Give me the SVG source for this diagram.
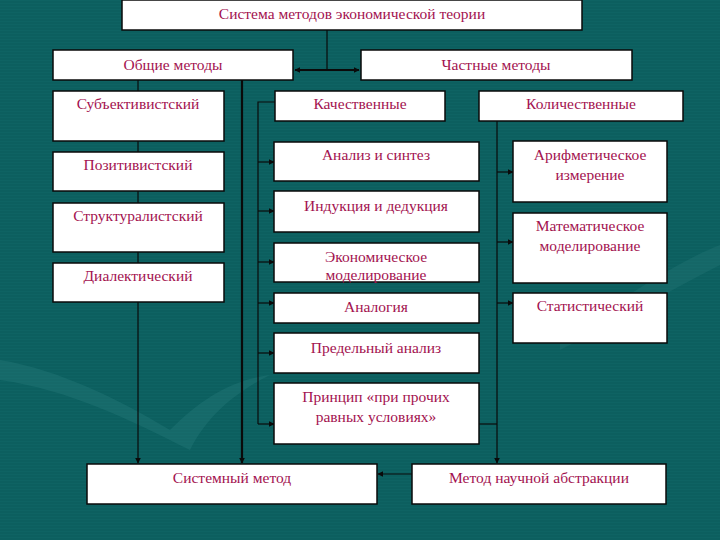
<svg xmlns="http://www.w3.org/2000/svg" width="720" height="540" viewBox="0 0 720 540">
<style>
.bg{fill:#0C5F5F}
.box{fill:#FFFFFF;stroke:#0A0A0A;stroke-width:1.5}
.t{font-family:"Liberation Serif","DejaVu Serif",serif;font-size:15.5px;fill:#A3124F;text-anchor:middle}
.ln{stroke:#0A0A0A;stroke-width:1.2;fill:none}
.lt{stroke:#0A0A0A;stroke-width:2.2;fill:none}
</style>
<defs>
<marker id="ah" viewBox="0 0 10 10" refX="9" refY="5" markerWidth="6" markerHeight="6" markerUnits="userSpaceOnUse" orient="auto-start-reverse">
<path d="M0,0 L10,5 L0,10 z" fill="#0A0A0A"/>
</marker>
<pattern id="stripes" width="4" height="3" patternUnits="userSpaceOnUse">
<rect width="4" height="1" fill="#0F6868" opacity="0.5"/>
</pattern>
</defs>
<rect class="bg" x="0" y="0" width="720" height="540"/>
<rect x="0" y="0" width="720" height="540" fill="url(#stripes)"/>
<path d="M0,360 C60,370 120,400 170,430 C200,400 230,380 270,375 C230,395 205,420 190,450 C130,420 70,390 0,380 Z" fill="#2E8080" opacity="0.3"/>
<path d="M560,340 C620,300 680,260 720,245 L720,265 C680,285 620,320 560,350 Z" fill="#2E8080" opacity="0.25"/>

<g id="connectors">
<line class="ln" x1="327" y1="30" x2="327" y2="70"/>
<line class="lt" x1="295" y1="70" x2="359" y2="70" marker-start="url(#ah)" marker-end="url(#ah)"/>
<line class="ln" x1="138" y1="80" x2="138" y2="463" marker-end="url(#ah)"/>
<line class="lt" x1="242" y1="80" x2="242" y2="463" marker-end="url(#ah)"/>
<polyline class="ln" points="275,102 258,102 258,424"/>
<line class="ln" x1="258" y1="162" x2="274" y2="162" marker-end="url(#ah)"/>
<line class="ln" x1="258" y1="211" x2="274" y2="211" marker-end="url(#ah)"/>
<line class="ln" x1="258" y1="262" x2="274" y2="262" marker-end="url(#ah)"/>
<line class="ln" x1="258" y1="303" x2="274" y2="303" marker-end="url(#ah)"/>
<line class="ln" x1="258" y1="353" x2="274" y2="353" marker-end="url(#ah)"/>
<line class="ln" x1="258" y1="424" x2="274" y2="424" marker-end="url(#ah)"/>
<line class="ln" x1="497" y1="121" x2="497" y2="463" marker-end="url(#ah)"/>
<line class="ln" x1="479" y1="424" x2="497" y2="424"/>
<line class="ln" x1="497" y1="172" x2="513" y2="172" marker-end="url(#ah)"/>
<line class="ln" x1="497" y1="242" x2="513" y2="242" marker-end="url(#ah)"/>
<line class="ln" x1="497" y1="303" x2="513" y2="303" marker-end="url(#ah)"/>
<line class="ln" x1="412" y1="474" x2="378" y2="474" marker-end="url(#ah)"/>
</g>

<g id="n-system"><rect class="box" x="122" y="0" width="460" height="30"/><text class="t" x="352" y="19">Система методов экономической теории</text></g>
<g id="n-general"><rect class="box" x="53" y="50" width="240" height="30"/><text class="t" x="173" y="70">Общие методы</text></g>
<g id="n-particular"><rect class="box" x="361" y="50" width="271" height="30"/><text class="t" x="496" y="70">Частные методы</text></g>

<g id="n-subj"><rect class="box" x="53" y="91" width="171" height="50"/><text class="t" x="138" y="109">Субъективистский</text></g>
<g id="n-pos"><rect class="box" x="53" y="152" width="171" height="39"/><text class="t" x="138" y="170">Позитивистский</text></g>
<g id="n-struct"><rect class="box" x="53" y="203" width="171" height="49"/><text class="t" x="138" y="221">Структуралистский</text></g>
<g id="n-dial"><rect class="box" x="53" y="263" width="171" height="39"/><text class="t" x="138" y="281">Диалектический</text></g>

<g id="n-qual"><rect class="box" x="275" y="91" width="170" height="30"/><text class="t" x="360" y="109">Качественные</text></g>
<g id="n-analysis"><rect class="box" x="274" y="142" width="205" height="39"/><text class="t" x="376" y="160">Анализ и синтез</text></g>
<g id="n-induction"><rect class="box" x="274" y="191" width="205" height="41"/><text class="t" x="376" y="211">Индукция и дедукция</text></g>
<g id="n-econmodel"><rect class="box" x="274" y="243" width="205" height="39"/><text class="t" x="376" y="262">Экономическое</text><text class="t" x="376" y="280">моделирование</text></g>
<g id="n-analogy"><rect class="box" x="274" y="293" width="205" height="30"/><text class="t" x="376" y="312">Аналогия</text></g>
<g id="n-marginal"><rect class="box" x="274" y="333" width="205" height="40"/><text class="t" x="376" y="353">Предельный анализ</text></g>
<g id="n-ceteris"><rect class="box" x="274" y="383" width="205" height="61"/><text class="t" x="376" y="402">Принцип «при прочих</text><text class="t" x="376" y="422">равных условиях»</text></g>

<g id="n-quant"><rect class="box" x="479" y="91" width="204" height="30"/><text class="t" x="581" y="109">Количественные</text></g>
<g id="n-arith"><rect class="box" x="513" y="141" width="154" height="61"/><text class="t" x="590" y="160">Арифметическое</text><text class="t" x="590" y="180">измерение</text></g>
<g id="n-mathmodel"><rect class="box" x="513" y="213" width="154" height="70"/><text class="t" x="590" y="231">Математическое</text><text class="t" x="590" y="251">моделирование</text></g>
<g id="n-stat"><rect class="box" x="513" y="293" width="154" height="50"/><text class="t" x="590" y="311">Статистический</text></g>

<g id="n-systemic"><rect class="box" x="87" y="464" width="290" height="40"/><text class="t" x="232" y="483">Системный метод</text></g>
<g id="n-abstraction"><rect class="box" x="412" y="464" width="254" height="40"/><text class="t" x="539" y="483">Метод научной абстракции</text></g>
</svg>
